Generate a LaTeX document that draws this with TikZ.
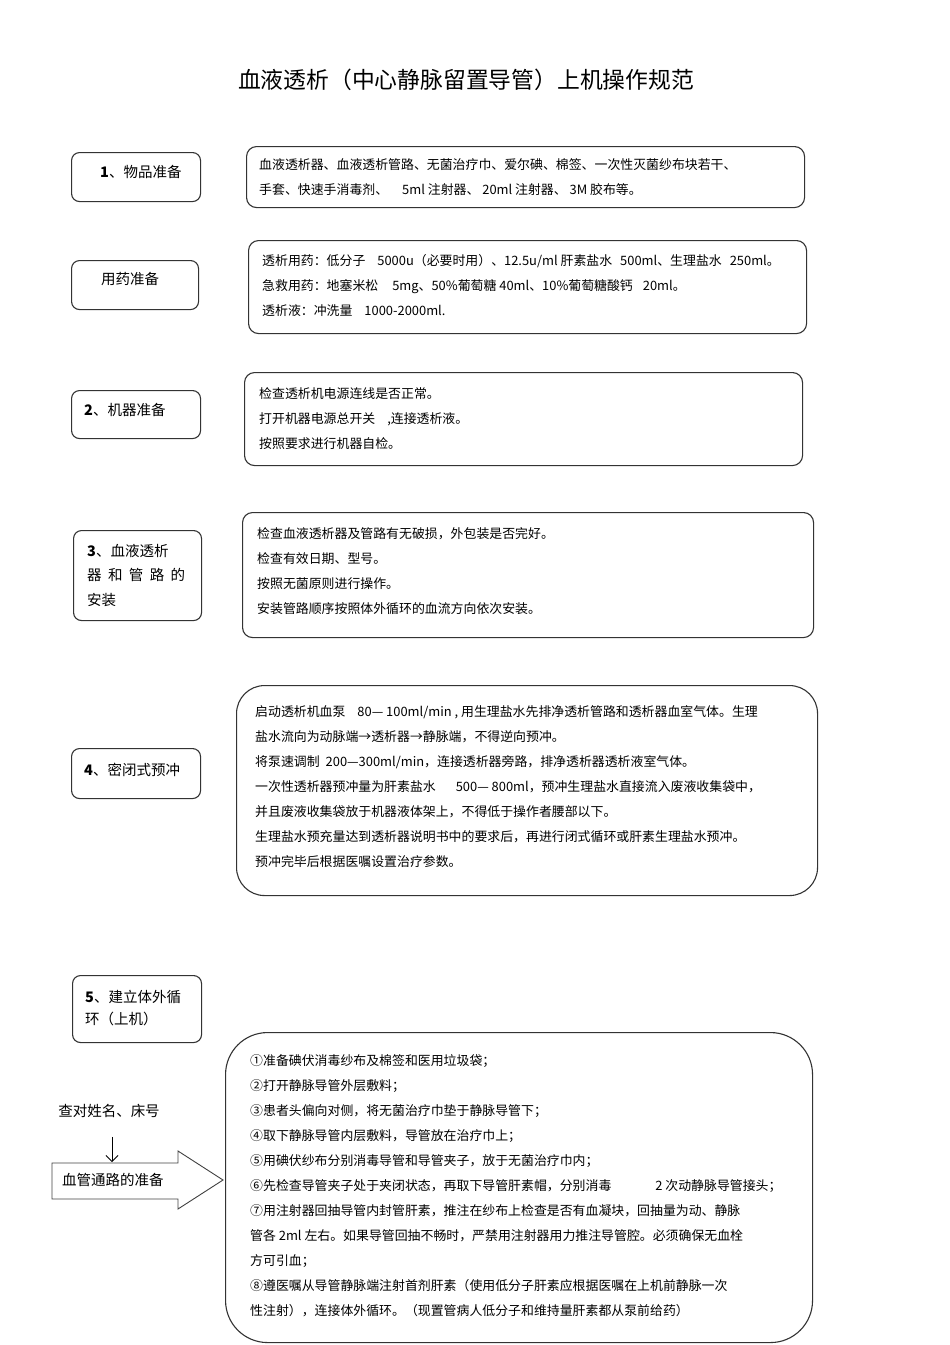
\documentclass[tikz,border=0pt]{standalone}
\usepackage{fontspec}
\setmainfont{Noto Sans CJK SC}
\usetikzlibrary{arrows.meta}

\tikzset{
    stepbox/.style={draw=black!80, line width=1.1pt, rounded corners=8pt, anchor=north west, inner sep=0pt},
    infobox/.style={draw=black!80, line width=1.1pt, rounded corners=10pt, anchor=north west, inner sep=0pt},
    steptext/.style={anchor=west, inner sep=0pt, align=left, font=\fontsize{14.5}{24.5}\selectfont},
    bodytext/.style={anchor=north west, inner sep=0pt, align=left, font=\fontsize{12.9}{25}\selectfont},
}

\begin{document}
\begin{tikzpicture}[x=1pt, y=-1pt]
            \useasboundingbox (0,0) rectangle (950,1345);

            % Title
            \node[font=\fontsize{22.8}{27}\selectfont] (title) at (466,80) {血液透析（中心静脉留置导管）上机操作规范};

            % Left column: steps
            \node[stepbox, minimum width=129pt, minimum height=49pt] (b1) at (71,152) {};
            \node[steptext] (b1t) at (100,172) {\textbf{1}、物品准备};

            \node[stepbox, minimum width=127pt, minimum height=49pt] (bmed) at (71,260) {};
            \node[steptext] (bmedt) at (101,279) {用药准备};

            \node[stepbox, minimum width=129pt, minimum height=48pt] (b2) at (71,390) {};
            \node[steptext] (b2t) at (84,410) {\textbf{2}、机器准备};

            \node[stepbox, minimum width=128pt, minimum height=90pt] (b3) at (73,530) {};
            \node[steptext, anchor=north west] (b3t) at (87,543.7)
                {\textbf{3}、血液透析\\\makebox[98pt][l]{器\hfill 和\hfill 管\hfill 路\hfill 的}\\安装};

            \node[stepbox, minimum width=129pt, minimum height=50pt] (b4) at (71,748) {};
            \node[steptext] (b4t) at (84,770) {\textbf{4}、密闭式预冲};

            \node[stepbox, minimum width=129pt, minimum height=67pt] (b5) at (72,975) {};
            \node[steptext, anchor=north west, font=\fontsize{14.5}{22}\selectfont] (b5t) at (85,989.7)
                {\textbf{5}、建立体外循\\环（上机）};

            % Right column: details
            \node[infobox, minimum width=558pt, minimum height=61pt] (r1) at (246,146) {};
            \node[bodytext] (r1t) at (259,158) {血液透析器、血液透析管路、无菌治疗巾、爱尔碘、棉签、一次性灭菌纱布块若干、\\
                手套、快速手消毒剂、\hspace{14pt}5ml 注射器、 20ml 注射器、 3M 胶布等。};

            \node[infobox, minimum width=558pt, minimum height=93pt] (r2) at (248,240) {};
            \node[bodytext] (r2t) at (262,254) {透析用药：低分子\hspace{12pt}5000u（必要时用）、12.5u/ml 肝素盐水\hspace{8pt}500ml、生理盐水\hspace{8pt}250ml。\\
                急救用药：地塞米松\hspace{14pt}5mg、50\%葡萄糖 40ml、10\%葡萄糖酸钙\hspace{10pt}20ml。\\
                透析液：冲洗量\hspace{12pt}1000-2000ml.};

            \node[infobox, minimum width=558pt, minimum height=93pt] (r3) at (244,372) {};
            \node[bodytext] (r3t) at (259,387) {检查透析机电源连线是否正常。\\
                打开机器电源总开关\hspace{12pt},连接透析液。\\
                按照要求进行机器自检。};

            \node[infobox, minimum width=571pt, minimum height=125pt] (r4) at (242,512) {};
            \node[bodytext] (r4t) at (257,527) {检查血液透析器及管路有无破损，外包装是否完好。\\
                检查有效日期、型号。\\
                按照无菌原则进行操作。\\
                安装管路顺序按照体外循环的血流方向依次安装。};

            \node[infobox, rounded corners=28pt, minimum width=581pt, minimum height=210pt] (r5) at (236,685) {};
            \node[bodytext] (r5t) at (255,705) {启动透析机血泵\hspace{12pt}80— 100ml/min , 用生理盐水先排净透析管路和透析器血室气体。生理\\
                盐水流向为动脉端→透析器→静脉端，不得逆向预冲。\\
                将泵速调制\hspace{6pt}200—300ml/min，连接透析器旁路，排净透析器透析液室气体。\\
                一次性透析器预冲量为肝素盐水\hspace{20pt}500— 800ml，预冲生理盐水直接流入废液收集袋中，\\
                并且废液收集袋放于机器液体架上，不得低于操作者腰部以下。\\
                生理盐水预充量达到透析器说明书中的要求后，再进行闭式循环或肝素生理盐水预冲。\\
                预冲完毕后根据医嘱设置治疗参数。};

            \node[infobox, rounded corners=42pt, minimum width=587pt, minimum height=310pt] (r6) at (225,1032) {};
            \node[bodytext] (r6t) at (250,1054) {①准备碘伏消毒纱布及棉签和医用垃圾袋；\\
                ②打开静脉导管外层敷料；\\
                ③患者头偏向对侧，将无菌治疗巾垫于静脉导管下；\\
                ④取下静脉导管内层敷料，导管放在治疗巾上；\\
                ⑤用碘伏纱布分别消毒导管和导管夹子，放于无菌治疗巾内；\\
                ⑥先检查导管夹子处于夹闭状态，再取下导管肝素帽，分别消毒\hspace{44pt}2 次动静脉导管接头；\\
                ⑦用注射器回抽导管内封管肝素，推注在纱布上检查是否有血凝块，回抽量为动、静脉\\
                管各 2ml 左右。如果导管回抽不畅时，严禁用注射器用力推注导管腔。必须确保无血栓\\
                方可引血；\\
                ⑧遵医嘱从导管静脉端注射首剂肝素（使用低分子肝素应根据医嘱在上机前静脉一次\\
                性注射），连接体外循环。（现置管病人低分子和维持量肝素都从泵前给药）};

            % Vascular access arrow
            \draw[line width=0.9pt, draw=black!75] (52,1163) -- (178,1163) -- (178,1151) -- (223,1180)
                -- (178,1209) -- (178,1199) -- (52,1199) -- cycle;
            \node[steptext] (vasc) at (62,1180) {血管通路的准备};
            \node[font=\fontsize{14.5}{17}\selectfont, inner sep=0pt] (check) at (109,1111) {查对姓名、床号};
            \coordinate (vasctop) at (112,1162);
            \draw[-{Straight Barb[length=6pt, width=12pt]}, line width=0.8pt, shorten <=19pt] (check.south -| vasctop) -- (vasctop);
\end{tikzpicture}
\end{document}
